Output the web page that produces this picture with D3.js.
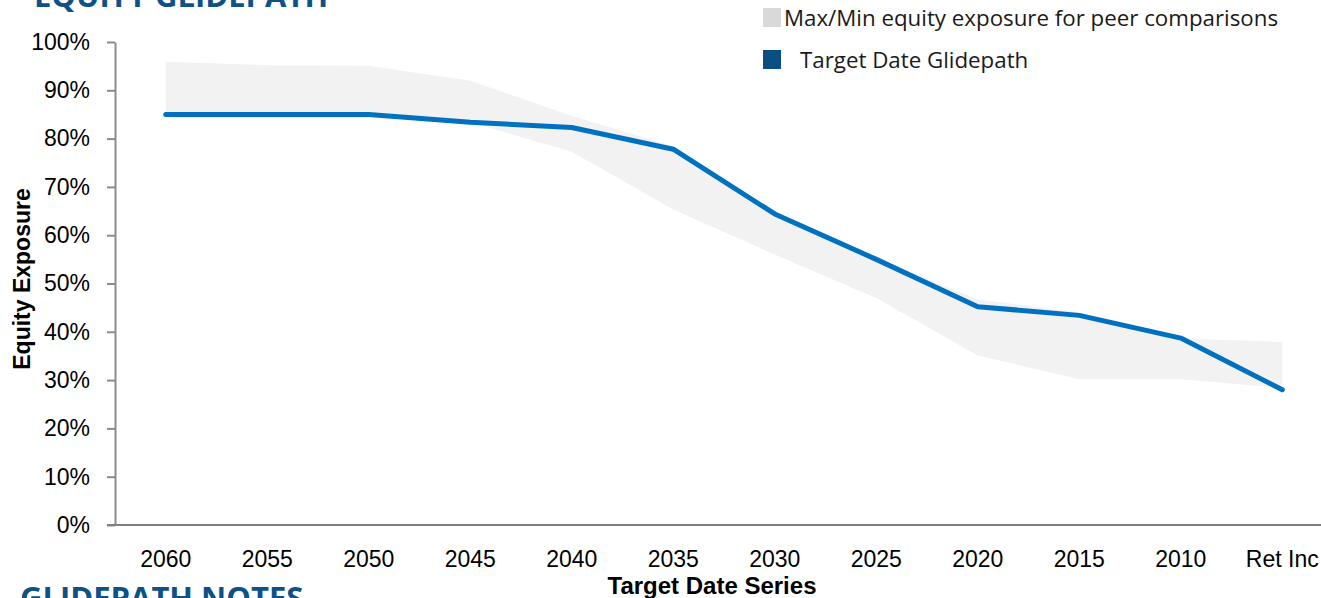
<!DOCTYPE html>
<html>
<head>
<meta charset="utf-8">
<script src="https://cdn.jsdelivr.net/npm/d3@7"></script>
<style>
  body { margin: 0; background: #fff; }
  svg { display: block; }
</style>
</head>
<body>
<svg id="chart" width="1321" height="598"></svg>
<script>
// categories along the x axis, oldest target date last
const categories = ["2060", "2055", "2050", "2045", "2040", "2035", "2030", "2025", "2020", "2015", "2010", "Ret Inc"];
// target date glidepath equity exposure (%)
const glidepath = [85, 85, 85, 83.4, 82.3, 77.8, 64.4, 55.0, 45.2, 43.4, 38.7, 28.0];
// peer max / min equity exposure (%)
const peerMax = [95.9, 95.2, 95.1, 92.0, 84.7, 78.4, 64.6, 55.3, 46.7, 44.0, 38.6, 37.9];
const peerMin = [85, 85, 85, 83.4, 77.3, 65.3, 56.0, 47.0, 35.1, 30.2, 30.2, 28.4];
const yTicks = [0, 10, 20, 30, 40, 50, 60, 70, 80, 90, 100];

const svg = d3.select("#chart");
const tickFont = "'Liberation Sans', Arial, sans-serif";
const legendFont = "'Open Sans', 'Noto Sans', sans-serif";

const x = d3.scaleBand().domain(categories).range([115, 1333]).padding(0);
const cx = d => x(d) + x.bandwidth() / 2;
const y = d3.scaleLinear().domain([0, 100]).range([525, 42]);

// titles (cut off by the frame, like the source)
svg.append("text")
    .attr("x", 34).attr("y", 7)
    .attr("font-family", legendFont)
    .attr("font-weight", 700)
    .attr("font-size", 31)
    .attr("fill", "#0e5186")
    .text("EQUITY GLIDEPATH");

svg.append("text")
    .attr("x", 20).attr("y", 609)
    .attr("font-family", legendFont)
    .attr("font-weight", 700)
    .attr("font-size", 31)
    .attr("fill", "#0e5186")
    .text("GLIDEPATH NOTES");

// peer band
const bandData = categories.map((c, i) => ({ c, hi: peerMax[i], lo: peerMin[i] }));
svg.append("path")
    .datum(bandData)
    .attr("fill", "#f2f2f2")
    .attr("d", d3.area()
        .x(d => cx(d.c))
        .y0(d => y(d.lo))
        .y1(d => y(d.hi)));

// y axis
const yAxis = svg.append("g")
    .attr("transform", "translate(115,0)")
    .call(d3.axisLeft(y).tickValues(yTicks).tickFormat(d => d + "%").tickSize(8).tickSizeOuter(0).tickPadding(17));
yAxis.select(".domain").attr("stroke", "#8c8c8c").attr("stroke-width", 2);
yAxis.selectAll(".tick line").attr("stroke", "#8c8c8c").attr("stroke-width", 2);
yAxis.selectAll(".tick text")
    .attr("font-family", tickFont)
    .attr("font-size", 23)
    .attr("fill", "#000");

// x axis
const xAxis = svg.append("g")
    .attr("transform", "translate(0,525)")
    .call(d3.axisBottom(x).tickSize(0).tickSizeOuter(0).tickPadding(26));
xAxis.select(".domain").attr("stroke", "#7f7f7f").attr("stroke-width", 2)
    .attr("d", "M107,0H1321");
xAxis.selectAll(".tick text")
    .attr("font-family", tickFont)
    .attr("font-size", 23)
    .attr("fill", "#000");

// axis titles
svg.append("text")
    .attr("x", 712).attr("y", 594)
    .attr("text-anchor", "middle")
    .attr("font-family", tickFont)
    .attr("font-weight", 700)
    .attr("font-size", 24)
    .text("Target Date Series");

svg.append("text")
    .attr("transform", "translate(30,279) rotate(-90)")
    .attr("text-anchor", "middle")
    .attr("font-family", tickFont)
    .attr("font-weight", 700)
    .attr("font-size", 23)
    .text("Equity Exposure");

// glidepath line
svg.append("path")
    .datum(categories.map((c, i) => ({ c, v: glidepath[i] })))
    .attr("fill", "none")
    .attr("stroke", "#0070c0")
    .attr("stroke-width", 5)
    .attr("stroke-linejoin", "round")
    .attr("stroke-linecap", "round")
    .attr("d", d3.line().x(d => cx(d.c)).y(d => y(d.v)));

// legend
const legend = [
    { label: "Max/Min equity exposure for peer comparisons", color: "#d9d9d9", tx: 784, y: 8 },
    { label: "Target Date Glidepath", color: "#0b4f82", tx: 800, y: 50 }
];
const lg = svg.append("g").selectAll("g").data(legend).enter().append("g");
lg.append("rect")
    .attr("x", 763).attr("y", d => d.y)
    .attr("width", 18).attr("height", 19)
    .attr("fill", d => d.color);
lg.append("text")
    .attr("x", d => d.tx).attr("y", d => d.y + 18)
    .attr("font-family", legendFont)
    .attr("font-size", 22.3)
    .attr("fill", "#1a1a1a")
    .text(d => d.label);
</script>
</body>
</html>
